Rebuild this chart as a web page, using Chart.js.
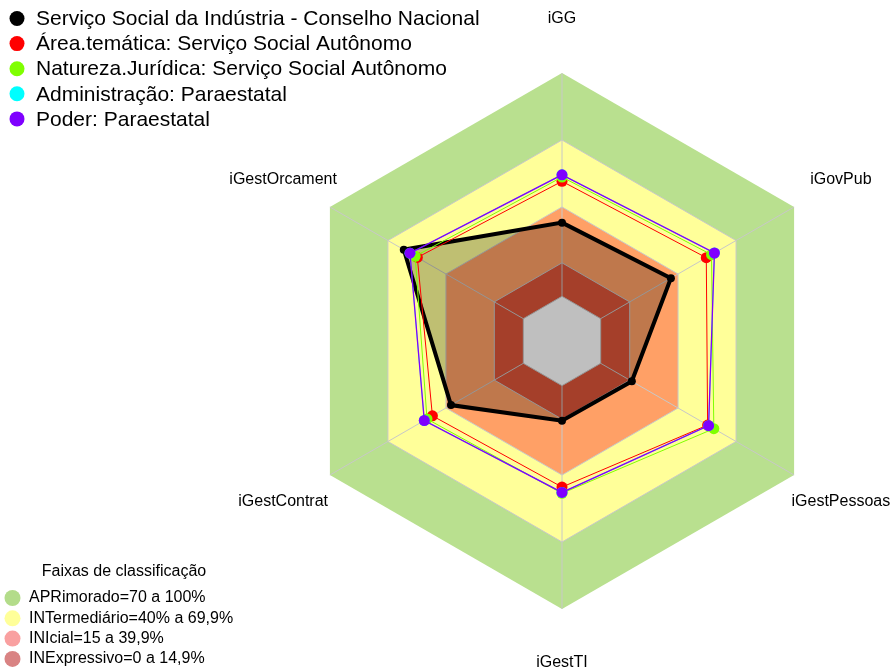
<!DOCTYPE html>
<html>
<head>
<meta charset="utf-8">
<script src="https://cdn.jsdelivr.net/npm/chart.js@4.4.1/dist/chart.umd.min.js"></script>
<style>
  html, body { margin: 0; padding: 0; background: #fff; }
  #wrap { position: relative; width: 895px; height: 672px; }
</style>
</head>
<body>
<div id="wrap"><canvas id="radar"></canvas></div>
<script>
// eixos do radar (sentido horario a partir do topo)
const eixos = ['iGG', 'iGovPub', 'iGestPessoas', 'iGestTI', 'iGestContrat', 'iGestOrcament'];

// series
const nomes = [
  'Serviço Social da Indústria - Conselho Nacional',
  'Área.temática: Serviço Social Autônomo',
  'Natureza.Jurídica: Serviço Social Autônomo',
  'Administração: Paraestatal',
  'Poder: Paraestatal'
];
const cores = ['#000000', '#FF0000', '#7FFF00', '#00FFFF', '#7F00FF'];
const orgao = [33.0, 36.3, 16.1, 15.7, 37.4, 61.8];
const areaTematica = [51.5, 54.6, 55.3, 45.4, 47.0, 54.8];
const naturezaJuridica = [53.4, 57.3, 58.5, 48.2, 49.8, 55.9];
const administracao = [54.4, 58.8, 55.8, 47.8, 51.2, 58.6];
const poder = [54.4, 58.8, 55.8, 47.8, 51.2, 58.6];

// faixas de classificacao
const faixasTitulo = 'Faixas de classificação';
const faixasNome = [
  'APRimorado=70 a 100%',
  'INTermediário=40% a 69,9%',
  'INIcial=15 a 39,9%',
  'INExpressivo=0 a 14,9%'
];
const faixasLimite = [100, 70, 40, 15, 0];

const faixasCor = ['#B9E08F', '#FFFF99', '#FFA066', '#DD5438', '#FFFFFF'];
const faixasLegendaCor = ['#B3DC8A', '#FFFF99', '#F9A0A0', '#D98383'];

const fonte = "'Liberation Sans', Arial, sans-serif";
Chart.defaults.font.family = fonte;

//Desenha as faixas, a grade, os rotulos dos eixos e as legendas
const faixasPlugin = {
  id: 'faixas',
  beforeDatasetsDraw(chart) {
    const {ctx} = chart;
    const r = chart.scales.r;
    const hexagono = (v) => {
      ctx.beginPath();
      eixos.forEach((e, i) => {
        const p = r.getPointPositionForValue(i, v);
        if (i === 0) ctx.moveTo(p.x, p.y); else ctx.lineTo(p.x, p.y);
      });
      ctx.closePath();
    };
    ctx.save();
    faixasLimite.forEach((v, k) => {
      hexagono(v);
      ctx.fillStyle = faixasCor[k];
      ctx.fill();
    });
    ctx.strokeStyle = '#C8C8C8';
    ctx.lineWidth = 1;
    faixasLimite.slice(1).forEach((v) => { hexagono(v); ctx.stroke(); });
    eixos.forEach((e, i) => {
      const a = r.getPointPositionForValue(i, 0);
      const b = r.getPointPositionForValue(i, 100);
      ctx.beginPath();
      ctx.moveTo(a.x, a.y);
      ctx.lineTo(b.x, b.y);
      ctx.stroke();
    });
    ctx.restore();
  },
  afterDraw(chart) {
    const {ctx} = chart;
    const r = chart.scales.r;
    ctx.save();
    ctx.fillStyle = '#000';
    ctx.font = '16px ' + fonte;
    ctx.textAlign = 'center';
    ctx.textBaseline = 'middle';
    eixos.forEach((e, i) => {
      const p = r.getPointPosition(i, r.drawingArea + 54);
      ctx.fillText(e, p.x, p.y);
    });

    // legenda das faixas
    ctx.fillText(faixasTitulo, 124, 572);
    ctx.textAlign = 'left';
    faixasNome.forEach((t, k) => {
      const y = 598 + k * 20.3;
      ctx.beginPath();
      ctx.arc(12.5, y, 8, 0, Math.PI * 2);
      ctx.fillStyle = faixasLegendaCor[k];
      ctx.fill();
      ctx.fillStyle = '#000';
      ctx.fillText(t, 29, y);
    });

    // legenda das series
    ctx.font = '21px ' + fonte;
    nomes.forEach((t, k) => {
      const y = 18.5 + k * 25.1;
      ctx.beginPath();
      ctx.arc(17, y, 7.5, 0, Math.PI * 2);
      ctx.fillStyle = cores[k];
      ctx.fill();
      ctx.fillStyle = '#000';
      ctx.fillText(t, 36, y + 1);
    });
    ctx.restore();
  }
};

const valores = [orgao, areaTematica, naturezaJuridica, administracao, poder];
const espessuras = [4, 1, 1, 0.7, 1.3];

const datasets = valores.map((v, i) => ({
  label: nomes[i],
  data: v,
  borderColor: cores[i],
  backgroundColor: i === 0 ? 'rgba(0,0,0,0.25)' : cores[i],
  fill: i === 0 ? 'start' : false,
  borderWidth: espessuras[i],
  pointRadius: i === 0 ? 4 : 5.5,
  pointHoverRadius: i === 0 ? 4 : 5.5,
  pointBorderWidth: 0,
  pointBackgroundColor: cores[i],
  order: valores.length - i
}));

new Chart('radar', {
  type: 'radar',
  data: {
    labels: eixos,
    datasets: datasets
  },
  options: {
    responsive: true,
    maintainAspectRatio: false,
    animation: false,
    layout: {
      padding: {left: 294, right: 65, top: 73, bottom: 63}
    },
    scales: {
      r: {
        min: -20,
        max: 100,
        ticks: {display: false},
        grid: {display: false},
        angleLines: {display: false},
        pointLabels: {display: false}
      }
    },
    plugins: {
      tooltip: {enabled: false},
      legend: {display: false}
    }
  },
  plugins: [faixasPlugin]
});
</script>
</body>
</html>
